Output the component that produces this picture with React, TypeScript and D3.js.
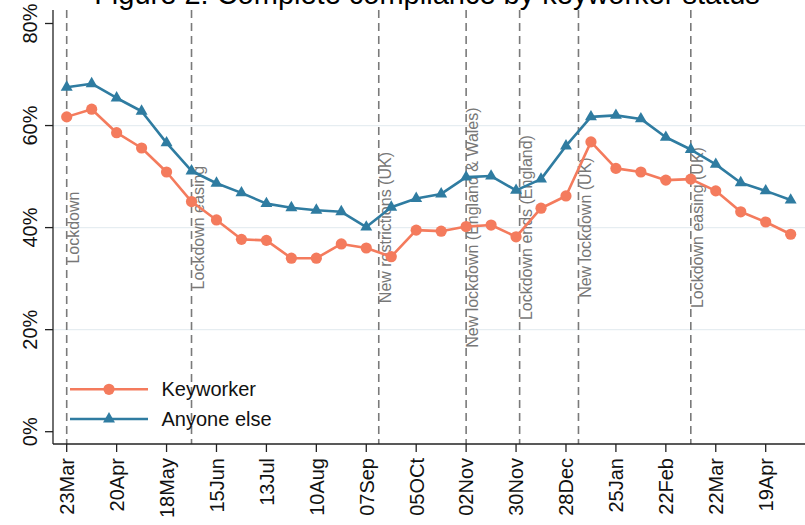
import React from "react";
import * as d3 from "d3";

const title = "Figure 2: Complete compliance by keyworker status";

const surveyDates = [
  "2020-03-23", "2020-04-06", "2020-04-20", "2020-05-04", "2020-05-18", "2020-06-01",
  "2020-06-15", "2020-06-29", "2020-07-13", "2020-07-27", "2020-08-10", "2020-08-24",
  "2020-09-07", "2020-09-21", "2020-10-05", "2020-10-19", "2020-11-02", "2020-11-16",
  "2020-11-30", "2020-12-14", "2020-12-28", "2021-01-11", "2021-01-25", "2021-02-08",
  "2021-02-22", "2021-03-08", "2021-03-22", "2021-04-05", "2021-04-19", "2021-05-03",
];

const keyworker = [
  61.7, 63.2, 58.6, 55.6, 50.9, 45.1, 41.5, 37.7, 37.5, 34.0, 34.0, 36.8, 36.0, 34.3, 39.5,
  39.3, 40.2, 40.5, 38.2, 43.8, 46.2, 56.8, 51.6, 50.9, 49.3, 49.5, 47.2, 43.1, 41.1, 38.7,
];

const anyoneElse = [
  67.5, 68.2, 65.4, 62.8, 56.6, 51.1, 48.7, 46.8, 44.7, 43.9, 43.4, 43.1, 40.1, 44.0, 45.7,
  46.6, 49.9, 50.1, 47.3, 49.5, 56.0, 61.7, 62.0, 61.3, 57.7, 55.3, 52.4, 48.8, 47.2, 45.4,
];

const tickDates = [
  "2020-03-23", "2020-04-20", "2020-05-18", "2020-06-15", "2020-07-13", "2020-08-10",
  "2020-09-07", "2020-10-05", "2020-11-02", "2020-11-30", "2020-12-28", "2021-01-25",
  "2021-02-22", "2021-03-22", "2021-04-19",
];
const tickLabels = [
  "23Mar", "20Apr", "18May", "15Jun", "13Jul", "10Aug", "07Sep", "05OCt", "02Nov",
  "30Nov", "28Dec", "25Jan", "22Feb", "22Mar", "19Apr",
];

const yTicks = [0, 20, 40, 60, 80];
const gridValues = [20, 40, 60];

const eventDates = [
  "2020-03-23", "2020-06-01", "2020-09-14", "2020-11-02", "2020-12-02", "2021-01-04", "2021-03-08",
];
const eventLabels = [
  "Lockdown",
  "Lockdown easing",
  "New restrictions (UK)",
  "New lockdown (England & Wales)",
  "Lockdown ends (England)",
  "New lockdown (UK)",
  "Lockdown easing (UK)",
];
const eventLabelLevel = 40;

const seriesNames = ["Keyworker", "Anyone else"];
const seriesColors = ["#f47b5d", "#2f7ca1"];

const parse = d3.utcParse("%Y-%m-%d");

export default function App() {
  const W = 805;
  const H = 525;
  const plotLeft = 53;
  const plotRight = 805;
  const plotTop = 10;
  const plotBottom = 444;

  const x = d3
    .scaleUtc()
    .domain([parse(tickDates[0])!, parse(tickDates[tickDates.length - 1])!])
    .range([66.7, 765.7]);
  const y = d3.scaleLinear().domain([0, 80]).range([431.7, 23.5]);

  const dates = surveyDates.map((d) => parse(d)!);
  const line = d3
    .line<number>()
    .x((_, i) => x(dates[i]))
    .y((v) => y(v));

  const triangle = d3.symbol().type(d3.symbolTriangle).size(62)();
  const font = "Arial, 'Liberation Sans', sans-serif";

  return (
    <svg
      width={W}
      height={H}
      style={{ position: "absolute", left: 0, top: 0, background: "#fff" }}
      fontFamily={font}
    >
      <rect x={0} y={0} width={W} height={H} fill="#fff" />
      {/* title */}
      <text x={427} y={4} textAnchor="middle" fontSize={29} fill="#000">
        {title}
      </text>

      {/* grid */}
      {gridValues.map((v) => (
        <line
          key={"g" + v}
          x1={plotLeft}
          x2={plotRight}
          y1={y(v)}
          y2={y(v)}
          stroke="#e6edf1"
          strokeWidth={1.2}
        />
      ))}

      {/* event lines */}
      {eventDates.map((d, i) => {
        const ex = x(parse(d)!);
        return (
          <g key={"e" + i}>
            <line
              x1={ex}
              x2={ex}
              y1={plotTop}
              y2={plotBottom}
              stroke="#7a7a7a"
              strokeWidth={1.6}
              strokeDasharray="8,5"
            />
            <text
              transform={`translate(${ex + 12.3},${y(eventLabelLevel)}) rotate(-90)`}
              textAnchor="middle"
              fontSize={16}
              fill="#777"
            >
              {eventLabels[i]}
            </text>
          </g>
        );
      })}

      {/* axes */}
      <line x1={plotLeft} x2={plotLeft} y1={plotTop} y2={plotBottom} stroke="#222" strokeWidth={1.3} />
      <line x1={plotLeft} x2={plotRight} y1={plotBottom} y2={plotBottom} stroke="#222" strokeWidth={1.3} />
      {yTicks.map((v) => (
        <g key={"y" + v}>
          <line x1={plotLeft - 8} x2={plotLeft} y1={y(v)} y2={y(v)} stroke="#222" strokeWidth={1.3} />
          <text
            transform={`translate(36.5,${y(v)}) rotate(-90)`}
            textAnchor="middle"
            fontSize={20}
            fill="#111"
          >
            {v + "%"}
          </text>
        </g>
      ))}
      {tickDates.map((d, i) => {
        const tx = x(parse(d)!);
        return (
          <g key={"x" + i}>
            <line x1={tx} x2={tx} y1={plotBottom} y2={plotBottom + 8} stroke="#222" strokeWidth={1.3} />
            <text
              transform={`translate(${tx + 7.3},${plotBottom + 14}) rotate(-90)`}
              textAnchor="end"
              fontSize={20}
              fill="#111"
            >
              {tickLabels[i]}
            </text>
          </g>
        );
      })}

      {/* series */}
      <path d={line(anyoneElse) || ""} fill="none" stroke={seriesColors[1]} strokeWidth={2.6} strokeLinejoin="round" />
      {anyoneElse.map((v, i) => (
        <path key={"t" + i} d={triangle || ""} transform={`translate(${x(dates[i])},${y(v)})`} fill={seriesColors[1]} />
      ))}
      <path d={line(keyworker) || ""} fill="none" stroke={seriesColors[0]} strokeWidth={2.6} strokeLinejoin="round" />
      {keyworker.map((v, i) => (
        <circle key={"c" + i} cx={x(dates[i])} cy={y(v)} r={5.6} fill={seriesColors[0]} />
      ))}

      {/* legend */}
      {seriesNames.map((name, i) => {
        const ly = 389.3 + i * 29.7;
        return (
          <g key={"l" + i}>
            <line x1={70} x2={148} y1={ly} y2={ly} stroke={seriesColors[i]} strokeWidth={2.6} />
            {i === 0 ? (
              <circle cx={109} cy={ly} r={5.6} fill={seriesColors[0]} />
            ) : (
              <path d={triangle || ""} transform={`translate(109,${ly})`} fill={seriesColors[1]} />
            )}
            <text x={161.5} y={ly + 7} fontSize={20} fill="#111">
              {name}
            </text>
          </g>
        );
      })}
    </svg>
  );
}
